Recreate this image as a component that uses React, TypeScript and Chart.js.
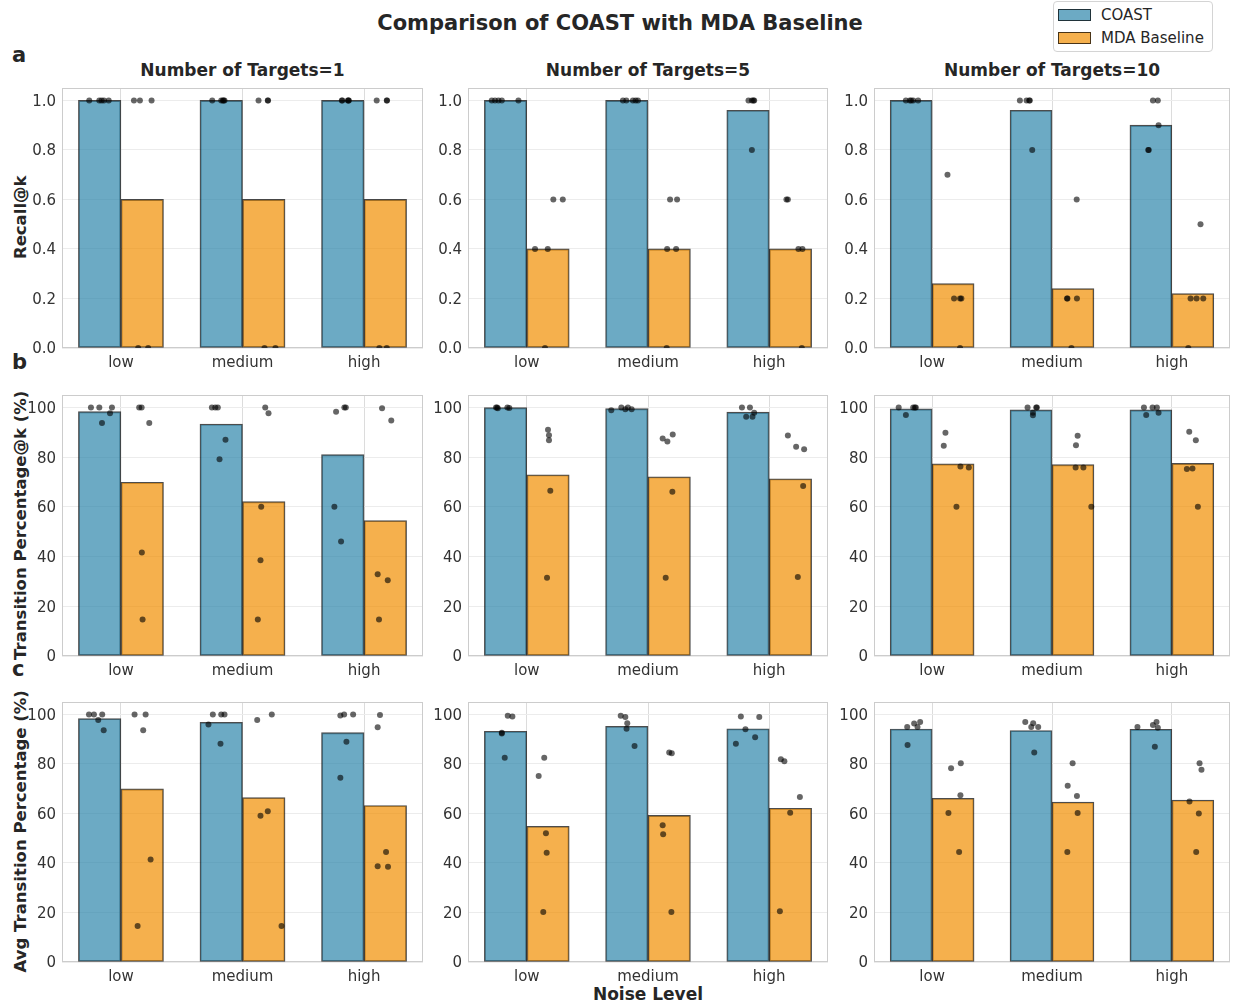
import React, { useEffect, useRef } from 'react';
import { Chart, registerables } from 'chart.js';

Chart.register(...registerables);

// ---- categories & labels ----
const noiseLevels = ['low', 'medium', 'high'];
const targetCounts = [1, 5, 10];
const seriesNames = ['COAST', 'MDA Baseline'];
const rowLabels = ['Recall@k', 'Transition Percentage@k (%)', 'Avg Transition Percentage (%)'];
const panelLetters = ['a', 'b', 'c'];
const recallTicks = [0, 0.2, 0.4, 0.6, 0.8, 1.0];
const percentTicks = [0, 20, 40, 60, 80, 100];

// ---- Recall@k : [targets][noise] ----
const recallCoastBars = [[1.0, 1.0, 1.0], [1.0, 1.0, 0.96], [1.0, 0.96, 0.9]];
const recallMdaBars = [[0.6, 0.6, 0.6], [0.4, 0.4, 0.4], [0.26, 0.24, 0.22]];
const recallCoastRuns = [
  [[1, 1, 1, 1, 1], [1, 1, 1, 1, 1], [1, 1, 1, 1, 1]],
  [[1, 1, 1, 1, 1], [1, 1, 1, 1, 1], [1, 1, 1, 1, 0.8]],
  [[1, 1, 1, 1, 1], [1, 1, 1, 1, 0.8], [1, 1, 0.9, 0.8, 0.8]],
];
const recallCoastJitter = [
  [[-0.086, -0.003, 0.016, 0.035, 0.074], [-0.074, 0, 0.013, 0.02, 0.027], [-0.008, -0.004, 0.042, 0.046, 0.05]],
  [[-0.114, -0.087, -0.059, -0.031, 0.106], [-0.032, -0.004, 0.05, 0.073, 0.092], [0.004, 0.032, 0.045, 0.051, 0.032]],
  [[-0.044, -0.011, 0, 0.017, 0.058], [-0.093, -0.037, -0.015, -0.01, 0.01], [0.017, 0.058, 0.064, -0.022, -0.018]],
];
const recallMdaRuns = [
  [[1, 1, 1, 0, 0], [1, 1, 1, 0, 0], [1, 1, 1, 0, 0]],
  [[0.6, 0.6, 0.4, 0.4, 0], [0.6, 0.6, 0.4, 0.4, 0], [0.6, 0.6, 0.4, 0.4, 0]],
  [[0.7, 0.2, 0.2, 0.2, 0], [0.6, 0.2, 0.2, 0.2, 0], [0.5, 0.2, 0.2, 0.2, 0]],
];
const recallMdaJitter = [
  [[-0.068, -0.019, 0.077, -0.033, 0.049], [-0.043, 0.033, 0.035, 0.006, 0.096], [-0.071, 0.012, 0.014, -0.049, 0.012]],
  [[0.044, 0.122, -0.107, -0.002, -0.025], [0.007, 0.065, -0.017, 0.057, -0.021], [-0.033, -0.021, 0.066, 0.099, 0.094]],
  [[-0.047, 0.008, 0.058, 0.069, 0.058], [0.031, -0.05, -0.046, 0.033, -0.013], [0.064, -0.019, 0.031, 0.087, -0.038]],
];

// ---- Transition Percentage@k (%) ----
const transCoastBars = [[98.3, 93.3, 81.0], [99.9, 99.5, 98.1], [99.4, 99.0, 99.0]];
const transMdaBars = [[69.9, 62.1, 54.5], [72.9, 72.1, 71.3], [77.3, 77.0, 77.5]];
const transCoastRuns = [
  [[100, 100, 100, 97.7, 93.7], [100, 100, 100, 87.0, 79.2], [98.3, 100, 100, 60.0, 46.1]],
  [[100, 99.7, 100, 99.8, 100], [98.9, 100, 100, 99.3, 99.3], [100, 100, 97.9, 96.2, 96.2]],
  [[100, 97.0, 100, 100, 100], [100, 100, 100, 97.9, 96.9], [100, 100, 100, 97.0, 97.9]],
];
const transCoastJitter = [
  [[-0.072, -0.003, 0.101, 0.085, 0.019], [-0.077, -0.049, -0.028, 0.035, -0.014], [-0.055, 0.013, 0.025, -0.069, -0.014]],
  [[-0.079, -0.064, 0.015, 0.031, -0.07], [-0.128, -0.045, 0.009, -0.012, 0.04], [-0.05, 0.016, 0.051, -0.015, 0.037]],
  [[-0.104, -0.044, 0.017, 0.031, 0.039], [-0.029, 0.043, 0.049, 0.016, 0.016], [-0.058, 0.014, 0.05, -0.039, 0.064]],
];
const transMdaRuns = [
  [[100, 100, 93.7, 41.6, 14.7], [100, 97.7, 60.0, 38.5, 14.7], [99.7, 94.7, 32.9, 30.5, 14.7]],
  [[91.0, 88.8, 86.8, 66.5, 31.5], [87.5, 86.3, 89.1, 66.1, 31.5], [88.7, 84.2, 83.2, 68.4, 31.8]],
  [[89.8, 84.6, 76.2, 75.8, 60.0], [88.6, 84.8, 75.8, 75.8, 60.0], [90.2, 86.8, 75.2, 75.4, 60.0]],
];
const transMdaJitter = [
  [[-0.025, -0.005, 0.058, -0.003, 0.003], [0.012, 0.039, -0.021, -0.027, -0.049], [-0.027, 0.049, -0.063, 0.02, -0.052]],
  [[0, 0.008, 0.008, 0.019, -0.008], [-0.054, -0.015, 0.029, 0.026, -0.029], [-0.021, 0.047, 0.113, 0.105, 0.061]],
  [[-0.064, -0.078, 0.061, 0.131, 0.028], [0.039, 0.025, 0.022, 0.087, 0.153], [-0.03, 0.025, -0.05, -0.003, 0.042]],
];

// ---- Avg Transition Percentage (%) ----
const avgCoastBars = [[98.3, 96.8, 92.6], [93.2, 95.2, 94.2], [94.1, 93.5, 94.0]];
const avgMdaBars = [[69.9, 66.4, 63.2], [54.8, 59.2, 62.1], [66.1, 64.6, 65.4]];
const avgCoastRuns = [
  [[100, 100, 100, 97.7, 93.6], [100, 100, 100, 95.9, 88.1], [99.5, 100, 100, 88.9, 74.4]],
  [[99.4, 99.1, 92.6, 92.3, 82.5], [99.4, 98.9, 96.4, 94.2, 87.2], [99.1, 98.9, 94.0, 90.8, 88.1]],
  [[94.9, 96.3, 94.9, 96.9, 87.6], [96.9, 94.9, 96.4, 94.9, 84.6], [94.9, 95.7, 96.9, 94.6, 86.9]],
];
const avgCoastJitter = [
  [[-0.088, -0.047, 0.021, -0.012, 0.033], [-0.069, 0, 0.027, -0.105, -0.006], [-0.02, 0.011, 0.085, 0.03, -0.02]],
  [[0.018, 0.056, -0.031, -0.031, -0.007], [-0.05, -0.012, 0.004, -0.002, 0.064], [-0.059, 0.093, -0.021, 0.059, -0.1]],
  [[-0.033, 0.025, 0.053, 0.075, -0.03], [-0.048, 0.002, 0.018, 0.06, 0.027], [-0.112, 0.017, 0.047, 0.058, 0.033]],
];
const avgMdaRuns = [
  [[100, 100, 93.6, 41.4, 14.5], [97.7, 100, 59.1, 60.9, 14.5], [99.7, 94.8, 44.4, 38.7, 38.5]],
  [[82.5, 75.1, 52.0, 44.1, 20.2], [84.6, 84.3, 55.2, 51.6, 20.2], [81.9, 81.1, 66.6, 60.3, 20.5]],
  [[78.2, 80.3, 67.3, 60.2, 44.4], [80.3, 71.2, 67.0, 60.2, 44.4], [80.3, 77.6, 64.8, 60.0, 44.4]],
];
const avgMdaJitter = [
  [[-0.063, 0.028, 0.008, 0.069, -0.038], [-0.054, 0.066, -0.027, 0.033, 0.146], [-0.044, -0.063, 0.006, -0.063, 0.022]],
  [[-0.031, -0.077, -0.017, -0.011, -0.039], [0, 0.021, -0.054, -0.05, 0.018], [-0.079, -0.05, 0.078, -0.002, -0.087]],
  [[-0.017, 0.064, 0.061, -0.039, 0.05], [-0.003, -0.044, 0.033, 0.039, -0.047], [0.056, 0.072, -0.028, 0.05, 0.028]],
];

// ---- styling & layout ----
const FONT = 'DejaVu Sans';
const TEXT = '#262626';
const TICK = '#333333';
const COAST_FILL = 'rgba(46,134,171,0.7)';
const MDA_FILL = 'rgba(241,143,1,0.7)';
const EDGE = 'rgba(0,0,0,0.7)';
const DOT = 'rgba(0,0,0,0.6)';
const BAR_SHIFT = 0.175; // half of one bar's width, in category units
const X_MIN = -0.485;
const X_MAX = 2.485;

const colLeft = [62, 468, 874];
const colWidth = [361, 360, 356];
const rowTop = [87, 394, 701];
const rowHeight = [261, 262, 261];
const YW = 45;
const XH = 30;
const PAD_T = 14;
const PAD_R = 4;

type Metric = {
  coastBars: number[][];
  mdaBars: number[][];
  coastRuns: number[][][];
  coastJitter: number[][][];
  mdaRuns: number[][][];
  mdaJitter: number[][][];
  ticks: number[];
  max: number;
  decimals: number;
};

const metrics: Metric[] = [
  { coastBars: recallCoastBars, mdaBars: recallMdaBars, coastRuns: recallCoastRuns, coastJitter: recallCoastJitter,
    mdaRuns: recallMdaRuns, mdaJitter: recallMdaJitter, ticks: recallTicks, max: 1.05, decimals: 1 },
  { coastBars: transCoastBars, mdaBars: transMdaBars, coastRuns: transCoastRuns, coastJitter: transCoastJitter,
    mdaRuns: transMdaRuns, mdaJitter: transMdaJitter, ticks: percentTicks, max: 105, decimals: 0 },
  { coastBars: avgCoastBars, mdaBars: avgMdaBars, coastRuns: avgCoastRuns, coastJitter: avgCoastJitter,
    mdaRuns: avgMdaRuns, mdaJitter: avgMdaJitter, ticks: percentTicks, max: 105, decimals: 0 },
];

// bar tops placed side by side around each noise level
function barPoints(values: number[], shift: number) {
  return values.map((v, i) => ({ x: i + shift, y: v }));
}

// strip-plot points for one series of one panel
function stripPoints(runs: number[][], jitter: number[][], shift: number) {
  return noiseLevels.flatMap((_, i) =>
    runs[i].map((v, k) => ({ x: i + shift + jitter[i][k], y: v }))
  );
}

// light frame around the plotting area
const framePlugin = {
  id: 'panelFrame',
  beforeDatasetsDraw(chart: any) {
    const { ctx, chartArea } = chart;
    const { left, top, right, bottom } = chartArea;
    ctx.save();
    ctx.strokeStyle = '#cccccc';
    ctx.lineWidth = 1;
    ctx.strokeRect(Math.round(left) + 0.5, Math.round(top) + 0.5, Math.round(right - left) - 1, Math.round(bottom - top) - 1);
    ctx.restore();
  },
};

function scatterSet(label: string, data: { x: number; y: number }[]) {
  return {
    type: 'scatter',
    label,
    data,
    pointRadius: 3,
    pointHoverRadius: 3,
    pointBorderWidth: 0,
    pointBackgroundColor: DOT,
    borderColor: 'transparent',
    order: 0,
  } as any;
}

function barSet(label: string, data: { x: number; y: number }[], fill: string) {
  return {
    type: 'bar',
    label,
    data,
    backgroundColor: fill,
    borderColor: EDGE,
    borderWidth: 1.2,
    borderSkipped: false,
    grouped: false,
    categoryPercentage: 1.0,
    barPercentage: 1.0,
    order: 1,
  } as any;
}

function Panel({ row, col }: { row: number; col: number }) {
  const ref = useRef<HTMLCanvasElement | null>(null);
  const width = YW + colWidth[col] + PAD_R;
  const height = PAD_T + rowHeight[row] + XH;

  useEffect(() => {
    const m = metrics[row];
    const chart = new Chart(ref.current as HTMLCanvasElement, {
      type: 'bar',
      data: {
        datasets: [
          scatterSet(seriesNames[0] + ' runs', stripPoints(m.coastRuns[col], m.coastJitter[col], -BAR_SHIFT)),
          scatterSet(seriesNames[1] + ' runs', stripPoints(m.mdaRuns[col], m.mdaJitter[col], BAR_SHIFT)),
          barSet(seriesNames[0], barPoints(m.coastBars[col], -BAR_SHIFT), COAST_FILL),
          barSet(seriesNames[1], barPoints(m.mdaBars[col], BAR_SHIFT), MDA_FILL),
        ],
      },
      options: {
        animation: false,
        responsive: false,
        devicePixelRatio: 1,
        layout: { padding: { top: PAD_T, right: PAD_R, left: 0, bottom: 0 } },
        plugins: {
          legend: { display: false },
          tooltip: { enabled: false },
          title: { display: false },
        },
        scales: {
          x: {
            type: 'linear',
            offset: false,
            min: X_MIN,
            max: X_MAX,
            grid: { color: '#dcdcdc', lineWidth: 1, drawTicks: false, offset: false },
            border: { display: false },
            ticks: {
              color: TICK,
              font: { family: FONT, size: 15 },
              padding: 6,
              maxRotation: 0,
              autoSkip: false,
              callback: (v: any) => noiseLevels[Math.round(Number(v))],
            },
            afterBuildTicks: (s: any) => { s.ticks = noiseLevels.map((_, i) => ({ value: i })); },
            afterFit: (s: any) => { s.height = XH; },
          },
          y: {
            type: 'linear',
            min: 0,
            max: m.max,
            grid: { color: '#ececec', lineWidth: 1, drawTicks: false },
            border: { display: false },
            ticks: {
              color: TICK,
              font: { family: FONT, size: 15 },
              padding: 6,
              labelOffset: 1.5,
              callback: (v: any) => Number(v).toFixed(m.decimals),
            },
            afterBuildTicks: (s: any) => { s.ticks = m.ticks.map((v) => ({ value: v })); },
            afterFit: (s: any) => { s.width = YW; },
          },
        } as any,
      },
      plugins: [framePlugin],
    } as any);
    return () => chart.destroy();
  }, [row, col]);

  return (
    <canvas
      ref={ref}
      width={width}
      height={height}
      style={{ position: 'absolute', left: colLeft[col] - YW, top: rowTop[row] - PAD_T, width, height }}
    />
  );
}

// text positioned by its baseline (line-height 1, DejaVu Sans ascent ~0.846em)
function textTop(baseline: number, size: number) {
  return baseline - 0.846 * size;
}

export default function App() {
  const rowCenters = rowTop.map((t, i) => t + rowHeight[i] / 2);
  const letterBaselines = [63, 370, 677];
  return (
    <div
      style={{
        position: 'absolute', left: 0, top: 0, width: 1240, height: 1003,
        background: '#ffffff', overflow: 'hidden', fontFamily: FONT, color: TEXT,
      }}
    >
      <div style={{ position: 'absolute', left: 0, width: 1240, top: textTop(31, 21), textAlign: 'center', fontSize: 21, lineHeight: 1, fontWeight: 'bold' }}>
        Comparison of COAST with MDA Baseline
      </div>

      {/* legend */}
      <div style={{ position: 'absolute', left: 1053, top: 1, width: 158, height: 49, border: '1px solid #d4d4d4', borderRadius: 4, background: '#ffffff' }}>
        {seriesNames.map((name, i) => (
          <React.Fragment key={name}>
            <div style={{ position: 'absolute', left: 4, top: 7 + i * 23, width: 33, height: 12, background: i === 0 ? COAST_FILL : MDA_FILL, border: '1px solid ' + EDGE, boxSizing: 'border-box' }} />
            <div style={{ position: 'absolute', left: 47, top: textTop(19 + i * 23, 15), fontSize: 15, lineHeight: 1, whiteSpace: 'nowrap', color: TEXT }}>{name}</div>
          </React.Fragment>
        ))}
      </div>

      {targetCounts.map((t, c) => (
        <div key={'t' + t} style={{ position: 'absolute', left: colLeft[c], width: colWidth[c], top: textTop(76, 17), textAlign: 'center', fontSize: 17, lineHeight: 1, fontWeight: 'bold', whiteSpace: 'nowrap' }}>
          {'Number of Targets=' + t}
        </div>
      ))}

      {panelLetters.map((l, r) => (
        <div key={l} style={{ position: 'absolute', left: 12, top: textTop(letterBaselines[r], 21), fontSize: 21, lineHeight: 1, fontWeight: 'bold' }}>{l}</div>
      ))}

      {rowLabels.map((label, r) => (
        <div
          key={label}
          style={{
            position: 'absolute', left: 21.3 - 170, top: rowCenters[r] - 8.25, width: 340, height: 16.5,
            textAlign: 'center', fontSize: 16.5, lineHeight: 1, fontWeight: 'bold', whiteSpace: 'nowrap',
            transform: 'rotate(-90deg)', transformOrigin: '50% 50%',
          }}
        >
          {label}
        </div>
      ))}

      <div style={{ position: 'absolute', left: colLeft[1], width: colWidth[1], top: textTop(1000.5, 17), textAlign: 'center', fontSize: 17, lineHeight: 1, fontWeight: 'bold' }}>
        Noise Level
      </div>

      {rowLabels.map((_, r) =>
        targetCounts.map((__, c) => <Panel key={r + '-' + c} row={r} col={c} />)
      )}
    </div>
  );
}
